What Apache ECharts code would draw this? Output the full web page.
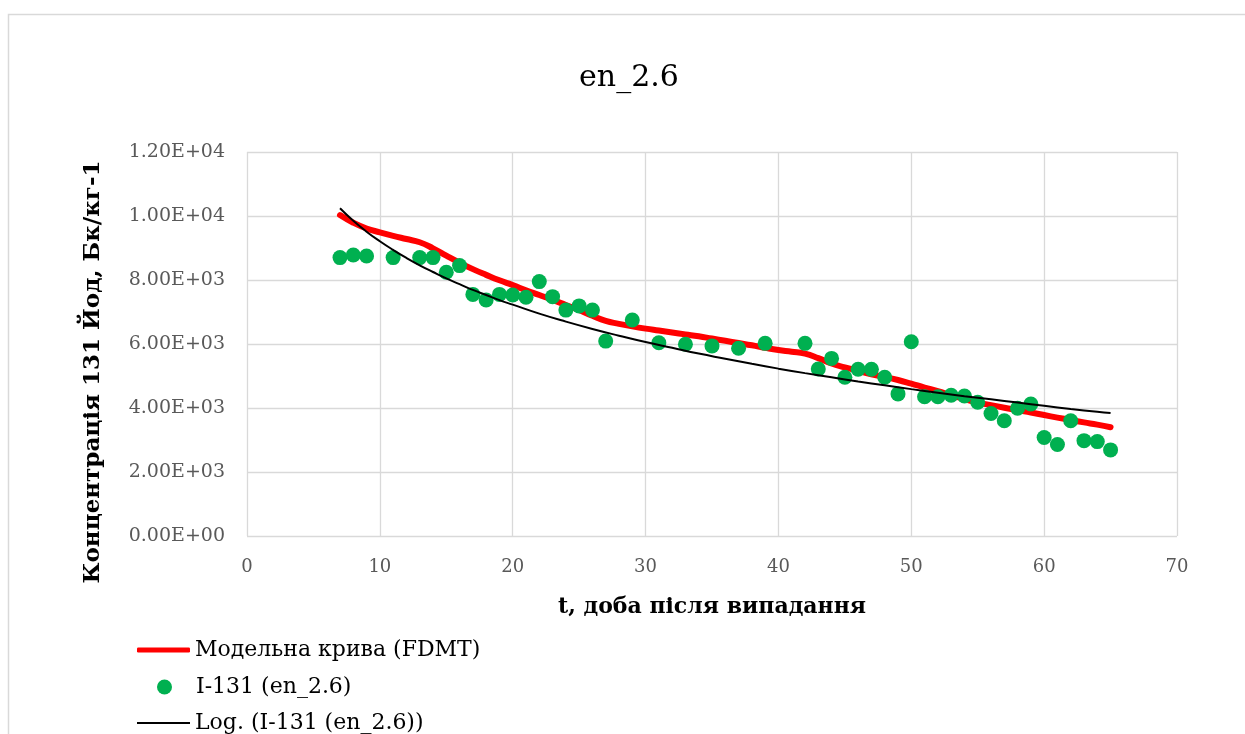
<!DOCTYPE html>
<html>
<head>
<meta charset="utf-8">
<script src="https://cdn.jsdelivr.net/npm/echarts@6/dist/echarts.min.js"></script>
<style>
  html, body { margin: 0; padding: 0; background: #ffffff; }
  #chart { width: 1245px; height: 734px; }
</style>
</head>
<body>
<div id="chart"></div>
<script>
// Measured I-131 concentration (days after fallout, Bq/kg)
var measuredDays = [7, 8, 9, 11, 13, 14, 15, 16, 17, 18, 19, 20, 21, 22, 23, 24, 25, 26, 27, 29,
  31, 33, 35, 37, 39, 42, 43, 44, 45, 46, 47, 48, 49, 50, 51, 52, 53, 54, 55, 56,
  57, 58, 59, 60, 61, 62, 63, 64, 65];
var measuredValues = [8700, 8780, 8750, 8700, 8700, 8700, 8240, 8450, 7550, 7375, 7550, 7530, 7460, 7950, 7480, 7060, 7190, 7060, 6090, 6750,
  6040, 5990, 5940, 5865, 6020, 6020, 5220, 5550, 4960, 5210, 5210, 4960, 4440, 6070, 4350, 4350, 4400, 4375, 4180, 3830,
  3600, 3990, 4125, 3080, 2860, 3600, 2980, 2950, 2690];

// Model curve (FDMT)
var modelDays = [7, 8, 9, 10, 11, 12, 13, 14, 15, 16, 17, 18, 19, 20, 21, 22, 23, 24, 25, 26,
  27, 28, 29, 30, 31, 32, 33, 34, 35, 36, 37, 38, 39, 40, 41, 42, 43, 44, 45, 46,
  47, 48, 49, 50, 51, 52, 53, 54, 55, 56, 57, 58, 59, 60, 61, 62, 63, 64, 65];
var modelValues = [10030, 9790, 9610, 9490, 9380, 9280, 9180, 8990, 8760, 8540, 8340, 8160, 7990, 7840, 7680, 7530, 7380, 7220, 7060, 6880,
  6720, 6630, 6550, 6480, 6420, 6360, 6300, 6240, 6170, 6100, 6030, 5960, 5880, 5810, 5760, 5700, 5560, 5390, 5270, 5160,
  5050, 4970, 4875, 4760, 4640, 4530, 4400, 4280, 4170, 4090, 4010, 3930, 3860, 3780, 3700, 3625, 3550, 3480, 3400];

// Logarithmic trend line of the measurements
var trendDays = [7, 8, 9, 10, 11, 12, 13, 14, 15, 16, 17, 18, 19, 20, 22, 24, 26, 28, 30, 32,
  34, 36, 38, 40, 42, 44, 46, 48, 50, 52, 54, 56, 58, 60, 62, 64, 65];
var trendValues = [10240, 9850, 9510, 9210, 8940, 8690, 8460, 8250, 8050, 7870, 7690, 7530, 7370, 7230, 6950, 6700, 6470, 6260, 6060, 5880,
  5700, 5540, 5380, 5230, 5090, 4960, 4830, 4710, 4590, 4480, 4370, 4270, 4170, 4070, 3970, 3880, 3840];

// Axis ticks
var xTicks = { min: 0, max: 70, step: 10 };
var yTicks = { min: 0, max: 12000, step: 2000 };

var seriesNames = ['Модельна крива (FDMT)', 'I-131 (en_2.6)', 'Log. (I-131 (en_2.6))'];
var yTitle = 'Концентрація 131 Йод, Бк/кг-1';

function pairs(xs, ys) {
  return xs.map(function (x, i) { return [x, ys[i]]; });
}

// Excel-style scientific notation, e.g. 1.20E+04
function sci(v) {
  if (v === 0) return '0.00E+00';
  var e = Math.floor(Math.log10(Math.abs(v)));
  var m = v / Math.pow(10, e);
  var es = (e < 0 ? '-' : '+') + (Math.abs(e) < 10 ? '0' : '') + Math.abs(e);
  return m.toFixed(2) + 'E' + es;
}

var serif = 'DejaVu Serif';
var legendText = { fontFamily: serif, fontSize: 22, lineHeight: 24, color: '#000000', padding: [0, 0, 0, 0] };

// one legend block per row, stacked under the plot
function legendRow(name, left, top, icon, h, color) {
  var item = { name: name, icon: icon };
  if (color) item.itemStyle = { color: color };
  return {
    orient: 'vertical', left: left, top: top, padding: 0,
    itemWidth: 53, itemHeight: h,
    textStyle: legendText,
    data: [item]
  };
}

var chart = echarts.init(document.getElementById('chart'), null, { renderer: 'canvas' });

chart.setOption({
  backgroundColor: '#ffffff',
  animation: false,
  graphic: [
    {
      type: 'rect',
      shape: { x: 8.5, y: 14.5, width: 1400, height: 900 },
      style: { fill: 'none', stroke: '#d9d9d9', lineWidth: 1.5 },
      silent: true, z: -10
    },
    {
      type: 'text',
      x: 629, y: 78,
      style: {
        text: 'en_2.6', fill: '#000000',
        font: '30px "' + serif + '"',
        textAlign: 'center', textVerticalAlign: 'middle'
      }
    },
    {
      type: 'text',
      x: 93, y: 372,
      rotation: Math.PI / 2,
      style: {
        text: yTitle, fill: '#000000',
        font: 'bold 23px "' + serif + '"',
        textAlign: 'center', textVerticalAlign: 'middle'
      }
    }
  ],
  grid: { left: 247, top: 152, right: 68, bottom: 198, containLabel: false },
  legend: [
    legendRow(seriesNames[0], 137, 638, 'roundRect', 5, '#ff0000'),
    legendRow(seriesNames[1], 157, 675, 'circle', 15, null),
    legendRow(seriesNames[2], 137, 711, 'rect', 2, '#000000')
  ],
  xAxis: {
    type: 'value',
    min: xTicks.min, max: xTicks.max, interval: xTicks.step,
    name: 't, доба після випадання',
    nameLocation: 'middle', nameGap: 60,
    nameTextStyle: { fontFamily: serif, fontWeight: 'bold', fontSize: 22, color: '#000000' },
    axisLine: { show: false },
    axisTick: { show: false },
    axisLabel: { margin: 22, fontFamily: serif, fontSize: 18, color: '#595959' },
    splitLine: { show: true, lineStyle: { color: '#d9d9d9', width: 1.3 } }
  },
  yAxis: {
    type: 'value',
    min: yTicks.min, max: yTicks.max, interval: yTicks.step,
    axisLine: { show: false },
    axisTick: { show: false },
    axisLabel: { margin: 22, fontFamily: serif, fontSize: 19, color: '#595959', formatter: sci },
    splitLine: { show: true, lineStyle: { color: '#d9d9d9', width: 1.3 } }
  },
  series: [
    {
      name: seriesNames[0],
      type: 'line',
      data: pairs(modelDays, modelValues),
      smooth: true,
      showSymbol: false, symbol: 'none',
      lineStyle: { color: '#ff0000', width: 6, cap: 'round', join: 'round' },
      itemStyle: { color: '#ff0000' },
      z: 2
    },
    {
      name: seriesNames[1],
      type: 'scatter',
      data: pairs(measuredDays, measuredValues),
      symbol: 'circle', symbolSize: 15,
      itemStyle: { color: '#00b050', opacity: 1 },
      z: 3
    },
    {
      name: seriesNames[2],
      type: 'line',
      data: pairs(trendDays, trendValues),
      smooth: true,
      showSymbol: false, symbol: 'none',
      lineStyle: { color: '#000000', width: 2 },
      itemStyle: { color: '#000000' },
      z: 4
    }
  ]
});
</script>
</body>
</html>
